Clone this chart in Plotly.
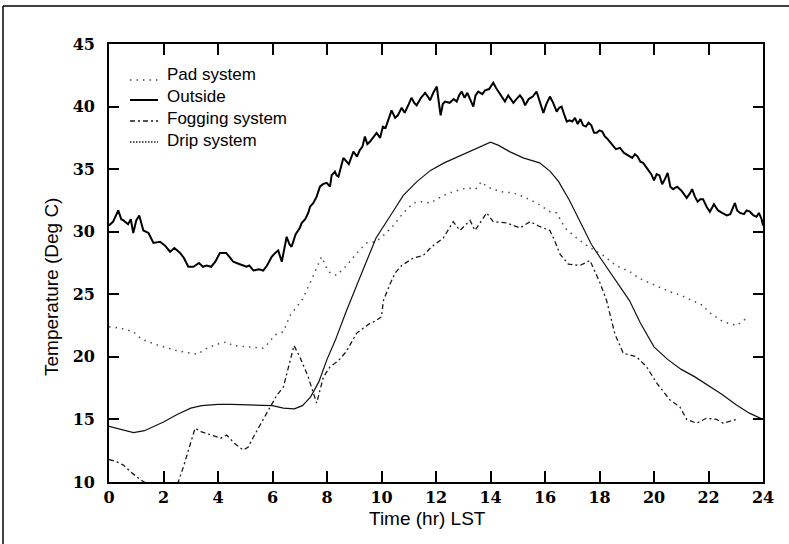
import plotly.graph_objects as go

# ---------------- data ----------------
outside_t = [0.0, 0.15, 0.34, 0.45, 0.53, 0.7, 0.8, 0.89, 1.0, 1.11, 1.26, 1.45, 1.63, 1.87, 2.05, 2.24, 2.4,
             2.61, 2.75, 2.91, 3.1, 3.3, 3.45, 3.58, 3.75, 3.9, 4.07, 4.3, 4.45, 4.56, 4.8, 5.05, 5.15, 5.3,
             5.5, 5.66, 5.8, 5.97, 6.1, 6.21, 6.34, 6.45, 6.52, 6.62, 6.7, 6.85, 7.0, 7.07, 7.2, 7.31, 7.38,
             7.5, 7.62, 7.74, 7.85, 7.99, 8.11, 8.17, 8.29, 8.35, 8.42, 8.6, 8.72, 8.8, 8.97, 9.1, 9.2, 9.3,
             9.39, 9.48, 9.58, 9.7, 9.82, 9.95, 10.05, 10.15, 10.25, 10.37, 10.5, 10.6, 10.74, 10.85, 11.0,
             11.1, 11.2, 11.29, 11.45, 11.6, 11.7, 11.78, 11.9, 12.03, 12.1, 12.17, 12.25, 12.33, 12.5,
             12.65, 12.76, 12.85, 12.94, 13.05, 13.15, 13.25, 13.37, 13.45, 13.55, 13.7, 13.8, 13.95, 14.1,
             14.2, 14.29, 14.4, 14.53, 14.65, 14.75, 14.84, 14.95, 15.08, 15.18, 15.27, 15.4, 15.55, 15.69,
             15.8, 15.94, 16.05, 16.18, 16.3, 16.43, 16.52, 16.61, 16.7, 16.8, 16.9, 17.0, 17.1, 17.2, 17.3,
             17.4, 17.5, 17.6, 17.7, 17.8, 17.9, 18.0, 18.1, 18.2, 18.3, 18.45, 18.6, 18.75, 18.9, 19.05,
             19.2, 19.3, 19.4, 19.5, 19.6, 19.7, 19.8, 19.9, 20.0, 20.1, 20.2, 20.3, 20.4, 20.5, 20.6, 20.7,
             20.85, 21.0, 21.1, 21.2, 21.3, 21.4, 21.5, 21.6, 21.7, 21.8, 21.93, 22.05, 22.2, 22.35, 22.5,
             22.67, 22.8, 22.97, 23.05, 23.16, 23.3, 23.4, 23.52, 23.65, 23.76, 23.85, 23.95, 24.0]
outside_v = [30.5, 30.8, 31.7, 31.0, 30.9, 30.6, 31.0, 29.9, 30.9, 31.3, 30.1, 29.9, 29.1, 29.2, 28.9, 28.4, 28.7,
             28.3, 27.9, 27.2, 27.2, 27.5, 27.2, 27.3, 27.2, 27.6, 28.3, 28.3, 27.9, 27.6, 27.4, 27.2, 27.3, 26.9,
             27.0, 26.9, 27.3, 28.0, 28.3, 28.5, 27.6, 28.7, 29.6, 29.0, 28.8, 29.8, 30.3, 30.7, 31.0, 31.5, 32.0,
             32.3, 32.8, 33.6, 33.8, 33.9, 33.6, 34.5, 34.8, 34.5, 34.4, 35.9, 35.6, 35.4, 36.4, 36.0, 36.5, 36.8,
             37.6, 37.0, 37.2, 37.6, 37.9, 37.5, 38.4, 38.3, 38.9, 39.7, 39.1, 39.3, 39.9, 39.5, 40.2,
             40.7, 40.3, 40.1, 40.7, 41.1, 40.8, 40.5, 41.1, 41.6, 40.4, 39.3, 40.2, 40.4, 40.3,
             40.6, 40.4, 40.9, 41.2, 40.7, 41.1, 40.6, 40.0, 40.9, 41.2, 41.0, 41.3, 41.4, 41.9,
             41.5, 41.2, 40.8, 40.4, 40.9, 40.6, 40.3, 40.6, 40.9, 40.6, 40.1, 40.6, 40.8, 41.2,
             40.5, 39.5, 40.2, 40.8, 40.3, 39.6, 39.9, 40.0, 39.4, 38.8, 38.9, 38.8, 39.1, 38.6, 39.0,
             38.5, 38.4, 38.7, 38.5, 37.9, 37.9, 38.1, 38.0, 37.6, 37.4, 37.0, 36.6, 36.7, 36.3, 36.1,
             35.9, 36.2, 36.0, 35.6, 35.5, 35.2, 34.9, 34.6, 34.1, 34.6, 34.5, 33.8, 34.2, 34.7, 33.6, 33.4,
             33.6, 33.3, 33.0, 32.7, 33.0, 33.4, 32.8, 32.4, 32.6, 32.6, 32.0, 31.6, 32.2, 31.7, 31.5,
             31.3, 31.4, 32.3, 31.7, 31.5, 31.4, 31.7, 31.6, 31.3, 31.2, 31.5, 31.0, 30.5]

drip_t = [0.0, 0.5, 0.9, 1.3, 1.7, 2.0, 2.5, 3.0, 3.4, 4.0, 4.5, 5.0, 5.5, 6.0, 6.4, 6.8, 7.1, 7.4, 7.7, 8.0,
          8.3, 8.7, 9.2, 9.5, 9.8, 10.3, 10.8, 11.3, 11.8, 12.3, 12.8, 13.3, 13.7, 14.0, 14.3, 14.7, 15.2,
          15.8, 16.2, 16.5, 16.9, 17.3, 17.7, 18.0, 18.5, 19.1, 19.5, 19.8, 20.0, 20.5, 21.0, 21.5, 22.0,
          22.5, 23.0, 23.5, 24.0]
drip_v = [14.45, 14.15, 13.95, 14.1, 14.5, 14.8, 15.4, 15.9, 16.1, 16.2, 16.2, 16.15, 16.15, 16.1, 15.9, 15.85,
          16.1, 16.8, 18.0, 19.8, 21.3, 23.6, 26.3, 27.9, 29.5, 31.2, 32.9, 34.0, 34.9, 35.5, 36.0, 36.5, 36.9,
          37.15, 36.9, 36.4, 35.9, 35.5, 34.8, 34.0, 32.5, 30.8, 29.0, 28.0, 26.4, 24.5, 22.7, 21.5, 20.8,
          19.8, 19.0, 18.4, 17.7, 17.0, 16.2, 15.5, 15.0]

pad_t = [0.0, 0.4, 0.9, 1.2, 1.7, 2.48, 3.24, 3.6, 3.95, 4.32, 4.55, 5.0, 5.66, 5.79, 6.09, 6.4, 6.64, 6.89,
         7.1, 7.38, 7.6, 7.8, 8.05, 8.35, 8.72, 9.1, 9.45, 9.8, 10.07, 10.44, 10.8, 11.17, 11.47, 11.8, 12.27,
         12.63, 13.12, 13.45, 13.67, 13.86, 14.35, 14.84, 15.2, 15.69, 16.18, 16.43, 16.73, 17.16, 17.53,
         18.14, 18.6, 19.12, 19.43, 20.1, 20.59, 20.95, 21.44, 21.81, 21.99, 22.54, 23.03, 23.4]
pad_v = [22.4, 22.3, 22.0, 21.4, 21.0, 20.5, 20.2, 20.7, 21.0, 21.2, 20.9, 20.8, 20.7, 20.95, 21.75, 22.0, 23.3,
         24.0, 24.6, 25.9, 27.0, 28.0, 26.8, 26.5, 27.3, 28.3, 29.1, 29.2, 29.7, 30.5, 31.5, 32.3, 32.4, 32.3,
         32.9, 33.2, 33.5, 33.4, 34.0, 33.6, 33.2, 33.1, 32.8, 32.3, 31.6, 31.5, 30.3, 29.5, 28.9,
         28.1, 27.3, 26.8, 26.3, 25.7, 25.2, 24.95, 24.5, 24.1, 23.6, 22.8, 22.5, 23.1]

fog_t = [0.0, 0.3, 0.53, 0.8, 1.14, 1.3, 1.6, 2.0, 2.4, 2.54, 2.73, 2.95, 3.16, 3.4, 3.7, 3.95, 4.1, 4.32, 4.6,
         4.93, 5.11, 5.3, 5.6, 5.91, 6.15, 6.4, 6.64, 6.79, 7.0, 7.31, 7.62, 7.87, 8.11, 8.42, 8.7, 9.09, 9.52,
         9.8, 10.0, 10.07, 10.31, 10.5, 10.74, 11.17, 11.53, 11.84, 12.27, 12.51, 12.63, 12.88, 13.25, 13.43,
         13.86, 14.1, 14.59, 15.08, 15.45, 15.82, 16.18, 16.37, 16.55, 16.86, 17.28, 17.65, 18.02, 18.26,
         18.57, 18.87, 19.36, 19.73, 20.1, 20.59, 20.95, 21.2, 21.56, 21.93, 22.3, 22.54, 23.03]
fog_v = [11.8, 11.6, 11.35, 10.8, 10.2, 10.0, 9.6, 9.4, 9.7, 10.0, 11.2, 12.8, 14.3, 14.0, 13.8, 13.6, 13.5,
         13.75, 13.1, 12.55, 12.8, 13.6, 14.8, 16.0, 16.9, 17.6, 19.7, 20.9, 20.0, 18.4, 16.3, 18.4, 19.2, 19.7,
         20.4, 21.9, 22.6, 22.9, 23.2, 24.5, 25.8, 26.7, 27.3, 27.9, 28.1, 28.8, 29.5, 30.3, 30.8, 30.1, 30.9,
         30.1, 31.5, 30.8, 30.7, 30.3, 30.8, 30.4, 30.1, 29.2, 28.2, 27.4, 27.3, 27.7, 25.9, 24.5,
         21.8, 20.3, 20.0, 19.2, 17.9, 16.55, 16.0, 15.0, 14.7, 15.1, 15.0, 14.7, 15.0]

series_names = ["Pad system", "Outside", "Fogging system", "Drip system"]
x_ticks = list(range(0, 25, 2))
y_ticks = list(range(10, 46, 5))
x_title = "Time (hr) LST"
y_title = "Temperature (Deg C)"

# ---------------- styles ----------------
W, H = 789, 544
L, R, T, B = 109, 26, 44, 62

styles = {
    "Pad system": dict(color="#4a4a4a", width=1.5, dash="1.5px,5px"),
    "Outside": dict(color="#000000", width=2.0, dash="solid"),
    "Fogging system": dict(color="#1a1a1a", width=1.3, dash="5px,3px,2px,3px"),
    "Drip system": dict(color="#111111", width=1.2, dash="solid"),
}
# legend samples as printed in the key
sample_styles = dict(styles)
sample_styles["Drip system"] = dict(color="#222222", width=1.3, dash="1.5px,1.5px")


def px_x(px):
    return (px - L) / (W - L - R)


def px_y(py):
    return (H - B - py) / (H - T - B)


fig = go.Figure()
for name, xs, ys in [("Pad system", pad_t, pad_v), ("Outside", outside_t, outside_v),
                     ("Fogging system", fog_t, fog_v), ("Drip system", drip_t, drip_v)]:
    fig.add_trace(go.Scatter(x=xs, y=ys, mode="lines", name=name, line=styles[name],
                             showlegend=False, hoverinfo="skip"))

# ---------------- manual legend (text + samples) ----------------
legend_rows = [(74, 80), (96, 100), (118, 121), (140, 142)]
shapes = []
annotations = []
sans = "Liberation Sans, Arial, sans-serif"
for name, (ty, ly) in zip(series_names, legend_rows):
    annotations.append(dict(text=name, xref="paper", yref="paper", x=px_x(165), y=px_y(ty),
                            xanchor="left", yanchor="middle", showarrow=False,
                            font=dict(family=sans, size=17, color="#000")))
    shapes.append(dict(type="line", xref="paper", yref="paper", x0=px_x(130), x1=px_x(158),
                       y0=px_y(ly), y1=px_y(ly), line=sample_styles[name]))

# axis titles
annotations.append(dict(text=x_title, xref="paper", yref="paper", x=px_x(427), y=px_y(518),
                        xanchor="center", yanchor="middle", showarrow=False,
                        font=dict(family=sans, size=19, color="#000")))
annotations.append(dict(text=y_title, xref="paper", yref="paper", x=px_x(51), y=px_y(287),
                        xanchor="center", yanchor="middle", showarrow=False, textangle=-90,
                        font=dict(family=sans, size=19, color="#000")))

# outer page frame: only the top and left edges are visible in the scan
frame = dict(color="#000", width=1.5)
shapes.append(dict(type="line", xref="paper", yref="paper", x0=px_x(3), x1=px_x(789),
                   y0=px_y(6), y1=px_y(6), line=frame, layer="below"))
shapes.append(dict(type="line", xref="paper", yref="paper", x0=px_x(3), x1=px_x(3),
                   y0=px_y(6), y1=px_y(544), line=frame, layer="below"))

tickfont = dict(family="DejaVu Serif, serif", size=16, color="#000", weight="bold")

fig.update_layout(
    width=W, height=H,
    margin=dict(l=L, r=R, t=T, b=B),
    paper_bgcolor="white", plot_bgcolor="white",
    showlegend=False,
    shapes=shapes, annotations=annotations,
    xaxis=dict(range=[0, 24], tickvals=x_ticks, ticks="inside", ticklen=11, tickwidth=1.5,
               tickcolor="#000", showline=True, linecolor="#000", linewidth=1.8, mirror="ticks",
               showgrid=False, zeroline=False, tickfont=tickfont),
    yaxis=dict(range=[10, 45], tickvals=y_ticks, ticks="inside", ticklen=10, tickwidth=1.5,
               tickcolor="#000", showline=True, linecolor="#000", linewidth=1.8, mirror="ticks",
               showgrid=False, zeroline=False, tickfont=tickfont, ticklabelstandoff=9),
)

fig.write_html("out.html", config={"displayModeBar": False},
               post_script="document.body.style.margin='0';document.body.style.overflow='hidden';")
